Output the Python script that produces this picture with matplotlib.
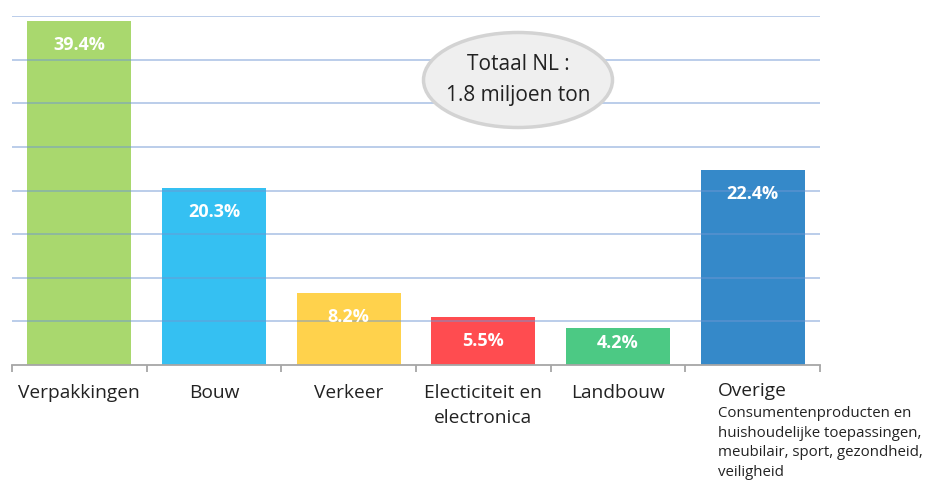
import matplotlib
matplotlib.use('Agg')
import matplotlib.pyplot as plt
from matplotlib.patches import Ellipse
import matplotlib.transforms as mtransforms

# data
categories = ["Verpakkingen", "Bouw", "Verkeer", "Electiciteit en\nelectronica", "Landbouw", "Overige"]
shares = [39.4, 20.3, 8.2, 5.5, 4.2, 22.4]
bar_colors = ["#A9D86E", "#35C0F2", "#FFD24C", "#FF4C50", "#4CC984", "#3589C9"]
overige_detail = "Consumentenproducten en\nhuishoudelijke toepassingen,\nmeubilair, sport, gezondheid,\nveiligheid"
total_text = "Totaal NL :\n1.8 miljoen ton"

plt.rcParams['font.family'] = ['Open Sans', 'DejaVu Sans']

W, H = 933, 488
fig = plt.figure(figsize=(W / 100, H / 100), dpi=100)
ax = fig.add_axes([12 / W, (H - 365) / H, (820 - 12) / W, (365 - 16) / H])

x = list(range(len(categories)))
ax.bar(x, shares, width=0.77, color=bar_colors, zorder=2)

ax.set_xlim(-0.5, len(categories) - 0.5)
ax.set_ylim(0, 40)

# gridlines on top of the bars, semi transparent
for gy in range(5, 41, 5):
    ax.axhline(gy, color="#6F97D3", lw=1.1, alpha=0.6, zorder=3)

# value labels inside the bar tops
for xi, v in zip(x, shares):
    ax.text(xi, max(v - 2.75, 2.5), f"{v}%", ha="center", va="center",
            color="white", fontsize=13, fontweight="bold", zorder=4)

# axes styling
for s in ["top", "right", "left"]:
    ax.spines[s].set_visible(False)
ax.spines["bottom"].set_color("#A6A6A6")
ax.spines["bottom"].set_linewidth(1.3)
ax.set_yticks([])
ax.set_xticks([i - 0.5 for i in range(len(categories) + 1)])
ax.set_xticklabels([])
ax.tick_params(axis="x", which="major", length=5, width=1.3, color="#A6A6A6", direction="out")

ax.set_xticks(x[:-1], minor=True)
ax.set_xticklabels(categories[:-1], minor=True, fontsize=13.8, color="#222222",
                   linespacing=1.45)
ax.tick_params(axis="x", which="minor", length=0, pad=14)

# Overige label with detail text, left aligned
trans = mtransforms.blended_transform_factory(ax.transData, fig.transFigure)
ax.text(len(categories) - 1 - 0.26, 1 - 382 / H, categories[-1], transform=trans,
        ha="left", va="top", fontsize=13.8, color="#222222")
ax.text(len(categories) - 1 - 0.26, 1 - 406 / H, overige_detail, transform=trans,
        ha="left", va="top", fontsize=10.8, color="#222222", linespacing=1.42)

# total bubble
ftrans = fig.transFigure
ell = Ellipse((518 / W, 1 - 80 / H), 189 / W, 95 / H, transform=ftrans,
              facecolor="#EFEFEF", edgecolor="#D3D3D3", lw=2.5, zorder=5)
fig.add_artist(ell)
fig.text(518 / W, 1 - 80 / H, total_text, ha="center", va="center",
         fontsize=15, color="#222222", linespacing=1.6, zorder=6)

fig.savefig("out.png", dpi=100)
